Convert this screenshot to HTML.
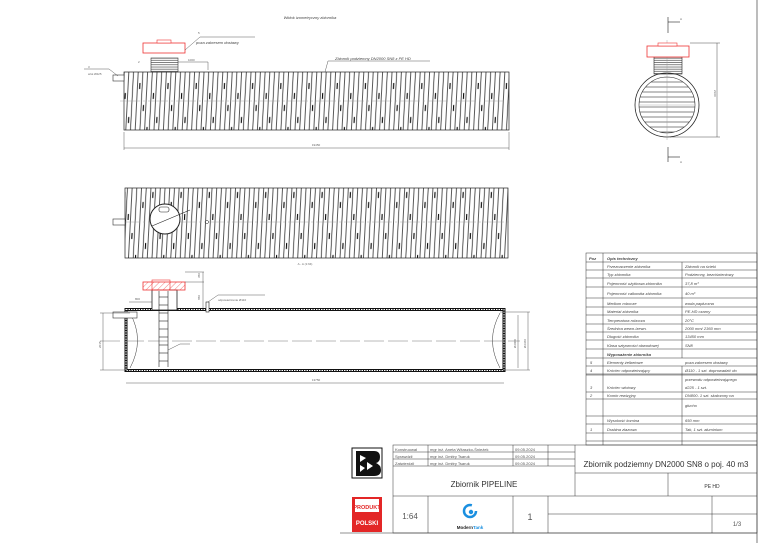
<!DOCTYPE html>
<html><head><meta charset="utf-8"><style>
html,body{margin:0;padding:0;background:#fff;}
svg{display:block;font-family:"Liberation Sans",sans-serif;}
.t{font-size:4px;fill:#444;font-style:italic}
.s{font-size:3px;fill:#666}
</style></head><body>
<svg width="768" height="543" viewBox="0 0 768 543" xmlns="http://www.w3.org/2000/svg">
<defs>
<pattern id="rib" width="28.2" height="75" patternUnits="userSpaceOnUse" patternTransform="skewX(-3)">
<g stroke="#222" stroke-width="0.75">
<line x1="1" y1="0" x2="1" y2="75"/><line x1="5.7" y1="0" x2="5.7" y2="75"/>
<line x1="10.4" y1="0" x2="10.4" y2="75"/><line x1="15.1" y1="0" x2="15.1" y2="75"/>
<line x1="19.8" y1="0" x2="19.8" y2="75"/><line x1="24.5" y1="0" x2="24.5" y2="75"/>
</g>
<g stroke="#000" stroke-width="1.1">
<line x1="3.3" y1="8" x2="3.3" y2="14"/><line x1="8" y1="30" x2="8" y2="36"/>
<line x1="12.7" y1="52" x2="12.7" y2="58"/><line x1="17.4" y1="18" x2="17.4" y2="24"/>
<line x1="22.1" y1="42" x2="22.1" y2="48"/><line x1="26.8" y1="64" x2="26.8" y2="70"/>
</g>
</pattern>
<pattern id="hat" width="4" height="4" patternUnits="userSpaceOnUse" patternTransform="rotate(45)">
<line x1="0" y1="0" x2="0" y2="4" stroke="#e44" stroke-width="0.7"/>
</pattern>
<pattern id="hz" width="10" height="2.2" patternUnits="userSpaceOnUse">
<line x1="0" y1="1" x2="10" y2="1" stroke="#333" stroke-width="0.6"/>
</pattern>
<pattern id="hz2" width="10" height="5" patternUnits="userSpaceOnUse">
<line x1="0" y1="2" x2="10" y2="2" stroke="#333" stroke-width="0.6"/>
</pattern>
</defs>
<g fill="none" stroke="#222" stroke-width="0.6">
<line x1="757" y1="0" x2="757" y2="543"/>
<line x1="340" y1="533" x2="757" y2="533"/>
</g>
<text x="310" y="19" class="t" text-anchor="middle">Widok izometryczny zbiornika</text>

<!-- TOP VIEW -->
<rect x="124" y="72" width="385" height="58" fill="url(#rib)" stroke="#222" stroke-width="0.7"/>
<line x1="120" y1="101" x2="512" y2="101" stroke="#999" stroke-width="0.4" stroke-dasharray="20 3 2 3"/>
<rect x="113" y="75" width="11" height="6" fill="#fff" stroke="#333" stroke-width="0.6"/>
<rect x="151" y="58" width="27" height="14" fill="url(#hz)" stroke="#333" stroke-width="0.6"/>
<rect x="143" y="43" width="42" height="10" fill="#fff" stroke="#e33" stroke-width="0.8"/>
<rect x="157" y="40" width="14" height="3" fill="#fff" stroke="#e33" stroke-width="0.6"/>
<g stroke="#333" stroke-width="0.4" fill="none">
<line x1="178" y1="62" x2="208" y2="62"/><line x1="208" y1="62" x2="208" y2="70"/>
<line x1="185" y1="50" x2="200" y2="37"/><line x1="200" y1="37" x2="255" y2="37"/>
<line x1="84" y1="69" x2="109" y2="69"/><line x1="109" y1="69" x2="118" y2="76"/>
<line x1="328" y1="61" x2="430" y2="61"/><line x1="328" y1="61" x2="325" y2="72"/>
<line x1="124" y1="148" x2="509" y2="148"/><line x1="124" y1="132" x2="124" y2="150"/><line x1="509" y1="132" x2="509" y2="150"/>
</g>
<text x="196" y="44" class="t">poza zakresem dostawy</text>
<text x="198" y="34" class="s">5</text>
<text x="88" y="68" class="s">3</text>
<text x="88" y="75" class="s">wlot Ø225</text>
<text x="138" y="63" class="s">2</text>
<text x="188" y="61" class="s">1000</text>
<text x="335" y="60" class="t">Zbiornik podziemny DN2000 SN8 z PE HD</text>
<text x="316" y="146" class="s" text-anchor="middle">19450</text>

<!-- RIGHT VIEW -->
<g stroke="#222" stroke-width="0.6" fill="none">
<line x1="668" y1="17" x2="668" y2="33"/><line x1="668" y1="22" x2="680" y2="22"/>
<line x1="668" y1="147" x2="668" y2="162"/><line x1="668" y1="157" x2="680" y2="157"/>
<circle cx="667" cy="105" r="32" stroke-width="0.8"/>
<circle cx="667" cy="105" r="28" fill="url(#hz2)"/>
<rect x="654" y="57" width="28" height="17" fill="url(#hz)"/>
<line x1="640" y1="105" x2="694" y2="105" stroke="#999" stroke-width="0.4"/>
<line x1="667" y1="40" x2="667" y2="140" stroke="#999" stroke-width="0.4"/>
<line x1="690" y1="43" x2="720" y2="43" stroke-width="0.4"/>
<line x1="670" y1="137" x2="720" y2="137" stroke-width="0.4"/>
<line x1="717" y1="43" x2="717" y2="137" stroke-width="0.4"/>
</g>
<rect x="647" y="46" width="42" height="11" fill="#fff" stroke="#e33" stroke-width="0.8"/>
<rect x="658" y="43" width="19" height="3" fill="#fff" stroke="#e33" stroke-width="0.6"/>
<text x="680" y="20" class="s">A</text><text x="680" y="163" class="s">A</text>
<text x="714" y="90" class="s" transform="rotate(90 714 90)">2360</text>

<!-- MIDDLE VIEW -->
<rect x="125" y="188" width="383" height="70" fill="url(#rib)" stroke="#222" stroke-width="0.7"/>
<line x1="120" y1="222" x2="512" y2="222" stroke="#999" stroke-width="0.4" stroke-dasharray="20 3 2 3"/>
<rect x="113" y="219" width="12" height="6" fill="#fff" stroke="#333" stroke-width="0.6"/>
<circle cx="165" cy="219" r="15" fill="#fff" stroke="#222" stroke-width="1"/>
<line x1="152" y1="226" x2="190" y2="210" stroke="#222" stroke-width="0.6"/>
<rect x="159" y="207" width="10" height="5" rx="2" fill="#fff" stroke="#222" stroke-width="0.6"/>
<circle cx="207" cy="222" r="1.5" fill="#fff" stroke="#222" stroke-width="0.5"/>

<!-- SECTION A-A -->
<text x="305" y="265" class="s" text-anchor="middle">A - A (1:64)</text>
<g fill="none" stroke="#111">
<rect x="126" y="309.5" width="378" height="61" stroke-width="3"/>
<rect x="126" y="309.5" width="378" height="61" stroke="#fff" stroke-width="1" stroke-dasharray="1.5 1"/>
</g>
<line x1="100" y1="341" x2="520" y2="341" stroke="#777" stroke-width="0.5" stroke-dasharray="20 4"/>
<path d="M130 313 Q145 340 130 368" fill="none" stroke="#333" stroke-width="0.5"/>
<path d="M500 313 Q485 340 500 368" fill="none" stroke="#333" stroke-width="0.5"/>
<rect x="113" y="312" width="24" height="6" fill="#fff" stroke="#333" stroke-width="0.6"/>
<rect x="152" y="290" width="25" height="20" fill="#fff" stroke="#222" stroke-width="0.8"/>
<rect x="143" y="282" width="42" height="8" fill="url(#hat)" stroke="#e33" stroke-width="0.8"/>
<rect x="152" y="280" width="18" height="10" fill="none" stroke="#e33" stroke-width="0.6"/>
<g stroke="#222" stroke-width="0.6">
<line x1="159" y1="291" x2="159" y2="367"/><line x1="168" y1="291" x2="168" y2="367"/>
<line x1="159" y1="297" x2="168" y2="297"/><line x1="159" y1="305" x2="168" y2="305"/>
<line x1="159" y1="313" x2="168" y2="313"/><line x1="159" y1="321" x2="168" y2="321"/>
<line x1="159" y1="329" x2="168" y2="329"/><line x1="159" y1="337" x2="168" y2="337"/>
<line x1="159" y1="345" x2="168" y2="345"/><line x1="159" y1="353" x2="168" y2="353"/>
<line x1="159" y1="361" x2="168" y2="361"/>
<rect x="206" y="302" width="3" height="10" fill="#fff"/>
</g>
<g stroke="#333" stroke-width="0.4" fill="none">
<line x1="208" y1="302" x2="218" y2="295"/><line x1="218" y1="295" x2="265" y2="295"/>
<line x1="168" y1="350" x2="180" y2="344"/><line x1="180" y1="344" x2="190" y2="344"/>
<line x1="185" y1="272" x2="204" y2="272"/><line x1="185" y1="282" x2="204" y2="282"/>
<line x1="203" y1="272" x2="203" y2="308"/>
<line x1="129" y1="302" x2="152" y2="302"/>
<line x1="100" y1="313" x2="130" y2="313"/><line x1="100" y1="370" x2="130" y2="370"/>
<line x1="103" y1="313" x2="103" y2="370"/>
<line x1="126" y1="383" x2="504" y2="383"/>
<line x1="500" y1="312" x2="530" y2="312"/><line x1="500" y1="370" x2="530" y2="370"/>
<line x1="518" y1="315" x2="518" y2="368"/><line x1="528" y1="312" x2="528" y2="370"/>
</g>
<text x="218" y="301" class="s">odpowietrzenie Ø110</text>
<text x="200" y="278" class="s" transform="rotate(-90 200 278)">350</text>
<text x="200" y="300" class="s" transform="rotate(-90 200 300)">650</text>
<text x="135" y="300" class="s">800</text>
<text x="101" y="348" class="s" transform="rotate(-90 101 348)">2015</text>
<text x="516" y="348" class="s" transform="rotate(-90 516 348)">Ø2000</text>
<text x="526" y="348" class="s" transform="rotate(-90 526 348)">Ø2360</text>
<text x="316" y="381" class="s" text-anchor="middle">13750</text>

<!-- TABLE -->
<g stroke="#333" stroke-width="0.5" fill="none">
<rect x="586" y="253" width="171" height="192"/>
<line x1="603" y1="253" x2="603" y2="445"/>
<line x1="682" y1="262" x2="682" y2="358"/>
<line x1="682" y1="366" x2="682" y2="445"/>
<line x1="586" y1="262" x2="757" y2="262"/>
<line x1="586" y1="270" x2="757" y2="270"/>
<line x1="586" y1="278" x2="757" y2="278"/>
<line x1="586" y1="287" x2="757" y2="287"/>
<line x1="586" y1="298" x2="757" y2="298"/>
<line x1="586" y1="307" x2="757" y2="307"/>
<line x1="586" y1="315" x2="757" y2="315"/>
<line x1="586" y1="324" x2="757" y2="324"/>
<line x1="586" y1="332" x2="757" y2="332"/>
<line x1="586" y1="340" x2="757" y2="340"/>
<line x1="586" y1="349" x2="757" y2="349"/>
<line x1="586" y1="358" x2="757" y2="358"/>
<line x1="586" y1="366" x2="757" y2="366"/>
<line x1="586" y1="374" x2="757" y2="374"/>
<line x1="586" y1="375" x2="757" y2="375"/>
<line x1="586" y1="392" x2="757" y2="392"/>
<line x1="586" y1="399" x2="757" y2="399"/>
<line x1="586" y1="416" x2="757" y2="416"/>
<line x1="586" y1="424" x2="757" y2="424"/>
<line x1="586" y1="433" x2="757" y2="433"/>
<line x1="586" y1="441" x2="757" y2="441"/>
</g>
<g class="t" font-size="3.6">
<text x="589" y="260" class="t" font-weight="bold">Poz</text><text x="607" y="260" class="t" font-weight="bold">Opis techniczny</text>
<text x="607" y="268" class="t">Przeznaczenie zbiornika</text><text x="685" y="268" class="t">Zbiornik na ścieki</text>
<text x="607" y="276" class="t">Typ zbiornika</text><text x="685" y="276" class="t">Podziemny, bezciśnieniowy</text>
<text x="607" y="285" class="t">Pojemność użytkowa zbiornika</text><text x="685" y="285" class="t">37,8 m³</text>
<text x="607" y="295" class="t">Pojemność całkowita zbiornika</text><text x="685" y="295" class="t">40 m³</text>
<text x="607" y="305" class="t">Medium robocze</text><text x="685" y="305" class="t">woda papłuczna</text>
<text x="607" y="313" class="t">Materiał zbiornika</text><text x="685" y="313" class="t">PE-HD czarny</text>
<text x="607" y="322" class="t">Temperatura robocza</text><text x="685" y="322" class="t">20°C</text>
<text x="607" y="330" class="t">Średnica wewn./zewn.</text><text x="685" y="330" class="t">2000 mm/ 2360 mm</text>
<text x="607" y="338" class="t">Długość zbiornika</text><text x="685" y="338" class="t">13450 mm</text>
<text x="607" y="347" class="t">Klasa sztywności obwodowej</text><text x="685" y="347" class="t">SN8</text>
<text x="607" y="356" class="t" font-weight="bold">Wyposażenie zbiornika</text>
<text x="590" y="364" class="t">5</text><text x="607" y="364" class="t">Elementy żelbetowe</text><text x="685" y="364" class="t">poza zakresem dostawy</text>
<text x="590" y="372" class="t">4</text><text x="607" y="372" class="t">Króciec odpowietrzający</text><text x="685" y="372" class="t">Ø110 - 1 szt. doprowadzić do</text>
<text x="685" y="381" class="t">przewodu odpowietrzającego</text>
<text x="590" y="389" class="t">3</text><text x="607" y="389" class="t">Króciec wlotowy</text><text x="685" y="389" class="t">d225 - 1 szt.</text>
<text x="590" y="397" class="t">2</text><text x="607" y="397" class="t">Komin rewizyjny</text><text x="685" y="397" class="t">DN800- 1 szt. skalczony na</text>
<text x="685" y="407" class="t">głucho</text>
<text x="607" y="422" class="t">Wysokość komina</text><text x="685" y="422" class="t">650 mm</text>
<text x="590" y="431" class="t">1</text><text x="607" y="431" class="t">Drabina złazowa</text><text x="685" y="431" class="t">Tak, 1 szt. aluminium</text>
</g>

<!-- TITLE BLOCK -->
<g stroke="#333" stroke-width="0.5" fill="none">
<rect x="393" y="445" width="364" height="88"/>
<line x1="393" y1="452" x2="575" y2="452"/>
<line x1="393" y1="459" x2="575" y2="459"/>
<line x1="393" y1="466" x2="575" y2="466"/>
<line x1="428" y1="445" x2="428" y2="466"/>
<line x1="513" y1="445" x2="513" y2="466"/>
<line x1="548" y1="445" x2="548" y2="466"/>
<line x1="575" y1="445" x2="575" y2="496"/>
<line x1="575" y1="473" x2="757" y2="473"/>
<line x1="668" y1="473" x2="668" y2="496"/>
<line x1="393" y1="496" x2="757" y2="496"/>
<line x1="428" y1="496" x2="428" y2="533"/>
<line x1="513" y1="496" x2="513" y2="533"/>
<line x1="548" y1="496" x2="548" y2="533"/>
<line x1="712" y1="496" x2="712" y2="533"/>
<line x1="548" y1="514" x2="757" y2="514"/>
</g>
<g font-size="4" fill="#555">
<text x="395" y="451">Konstruował</text><text x="430" y="451">mgr inż. Aneta Witaszko-Śnieżek</text><text x="515" y="451">09.05.2024</text>
<text x="395" y="458">Sprawdził</text><text x="430" y="458">mgr inż. Dmitry Tsaruk</text><text x="515" y="458">09.05.2024</text>
<text x="395" y="465">Zatwierdził</text><text x="430" y="465">mgr inż. Dmitry Tsaruk</text><text x="515" y="465">09.05.2024</text>
</g>
<text x="484" y="487" font-size="8" fill="#333" text-anchor="middle">Zbiornik PIPELINE</text>
<text x="666" y="467" font-size="8" fill="#333" text-anchor="middle">Zbiornik podziemny DN2000 SN8 o poj. 40 m3</text>
<text x="712" y="488" font-size="5" fill="#333" text-anchor="middle">PE HD</text>
<text x="410" y="519" font-size="8" fill="#555" text-anchor="middle">1:64</text>
<text x="530" y="520" font-size="9" fill="#555" text-anchor="middle">1</text>
<text x="737" y="526" font-size="6" fill="#555" text-anchor="middle">1/3</text>
<circle cx="470" cy="511" r="6" fill="none" stroke="#1a8fe0" stroke-width="2.5" stroke-dasharray="30 8"/>
<circle cx="471" cy="512" r="2.2" fill="#1a8fe0"/>
<text x="470" y="529" font-size="4.5" font-weight="bold" fill="#222" text-anchor="middle">Modern<tspan fill="#1a8fe0">Tank</tspan></text>
<g>
<rect x="352" y="448" width="30" height="30" fill="#fff" stroke="#111" stroke-width="1"/>
<path d="M356 451 H374 Q380 451 380 457 Q380 462 376 463 Q381 465 381 470 Q381 476 374 476 H356 Z" fill="#111"/>
<path d="M360 455 L366 458 L360 462 Z M367 462 L373 466 L367 470 Z M360 465 L365 468 L360 472 Z" fill="#fff"/>
</g>
<rect x="352" y="497" width="30" height="35" fill="#e32626"/>
<rect x="355" y="499" width="24" height="13" fill="#fff"/>
<text x="367" y="509" font-size="5.5" font-weight="bold" fill="#e32626" text-anchor="middle">PRODUKT</text>
<text x="367" y="525" font-size="6" font-weight="bold" fill="#fff" text-anchor="middle">POLSKI</text>
</svg>
</body></html>
